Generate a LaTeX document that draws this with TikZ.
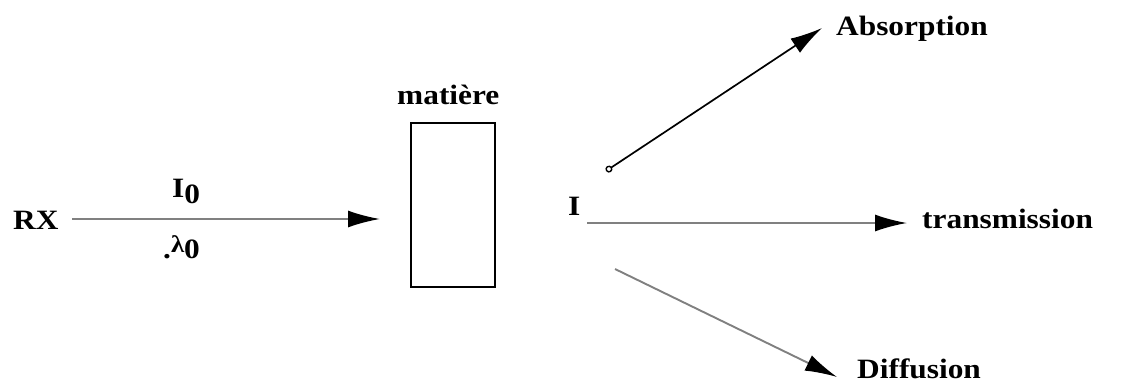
\documentclass[tikz,border=0pt]{standalone}
\usepackage{fontspec}
\setmainfont{Liberation Serif}
\usetikzlibrary{arrows.meta}
\newcommand{\wtxt}[1]{\scalebox{1.12}[1]{#1}}
\tikzset{
  lbl/.style={inner sep=0pt, anchor=base west, font=\fontsize{28}{30}\selectfont\bfseries},
  graybeam/.style={draw=black!50, line width=1.9pt, -{Latex[color=black,length=32pt,width=17pt]}},
  blackbeam/.style={draw=black, line width=1.7pt, {Circle[open,length=7pt,line width=1.4pt]}-{Latex[color=black,length=32pt,width=17pt]}},
  matbox/.style={draw=black, line width=1.3pt, minimum width=84pt, minimum height=164pt, inner sep=0pt}
}
\begin{document}
\begin{tikzpicture}[x=1pt,y=-1pt]
\useasboundingbox (0,0) rectangle (1137,383);
% nodes
\node[lbl] (rx) at (13,229) {\wtxt{RX}};
\node[lbl] (i0) at (172,197) {\wtxt{I\raisebox{-6pt}{0}}};
\node[lbl] (lam) at (163,258) {\wtxt{.\raisebox{6pt}{\fontsize{24}{26}\selectfont λ}0}};
\node[matbox] (box) at (453,205) {};
\node[lbl] (mat) at (397,104) {\wtxt{matière}};
\node[lbl] (ii) at (568,215) {\wtxt{I}};
\node[lbl] (abs) at (836,35) {\wtxt{Absorption}};
\node[lbl] (trans) at (922,228) {\wtxt{transmission}};
\node[lbl] (diff) at (857,378) {\wtxt{Diffusion}};
% connector end points
\coordinate (inS) at (72,219);
\coordinate (inE) at (380,219);
\coordinate (aS) at (606,171);
\coordinate (aE) at (822,28);
\coordinate (tS) at (587,223);
\coordinate (tE) at (907,223);
\coordinate (dS) at (615,269);
\coordinate (dE) at (837,377);
% connectors
\draw[graybeam] (inS) -- (inE);
\draw[blackbeam] (aS) -- (aE);
\draw[graybeam] (tS) -- (tE);
\draw[graybeam] (dS) -- (dE);
\end{tikzpicture}
\end{document}
